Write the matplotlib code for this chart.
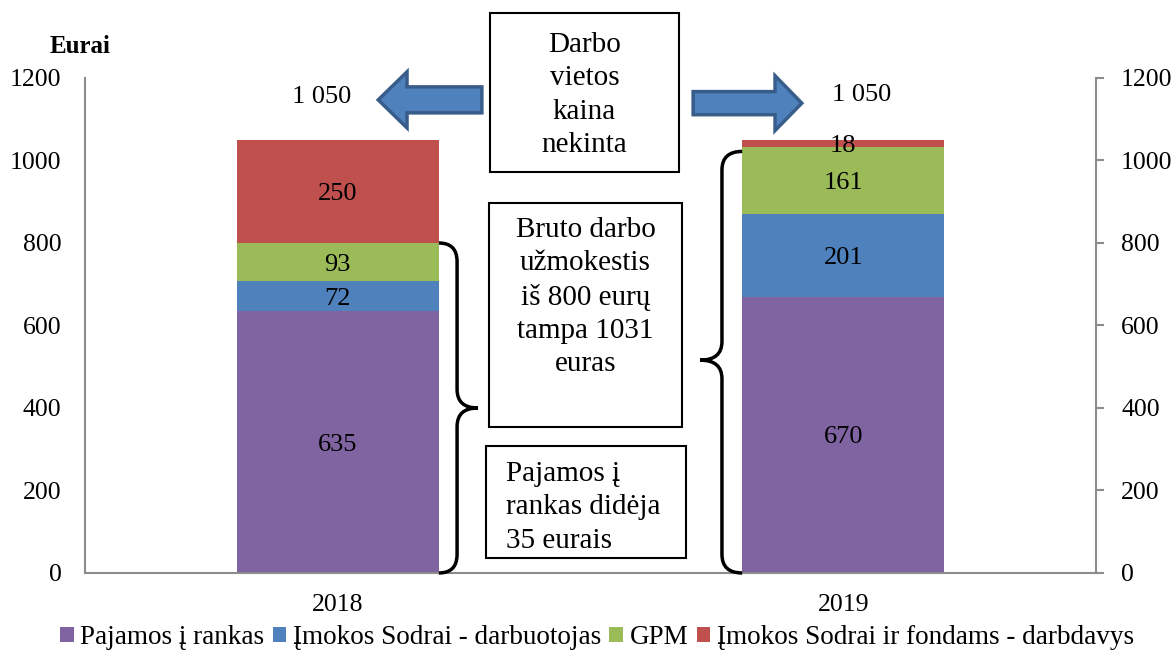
import matplotlib
matplotlib.use("Agg")
import matplotlib.pyplot as plt
import matplotlib.patches as mpatches
from matplotlib.path import Path
import numpy as np

plt.rcParams['font.family'] = ['Liberation Serif', 'DejaVu Serif']

# data
years = ['2018', '2019']
series_names = ['Pajamos į rankas', 'Įmokos Sodrai - darbuotojas', 'GPM',
                'Įmokos Sodrai ir fondams - darbdavys']
pajamos = [635, 670]
sodra_darbuotojas = [72, 201]
gpm = [93, 161]
sodra_darbdavys = [250, 18]
totals_text = ['1 050', '1 050']

colors = ['#8064A2', '#4F81BD', '#9BBB59', '#C0504D']
axis_grey = '#8c8c8c'

fig = plt.figure(figsize=(11.76, 6.5), dpi=100)
ax = fig.add_axes([0.0723, 0.1185, 0.8597, 0.7615])

x = np.arange(len(years))
width = 0.4
bottom = np.zeros(len(years))
for vals, col, name in zip([pajamos, sodra_darbuotojas, gpm, sodra_darbdavys],
                           colors, series_names):
    vals = np.array(vals, dtype=float)
    ax.bar(x, vals, width, bottom=bottom, color=col, label=name)
    for xi, b, v in zip(x, bottom, vals):
        ax.text(xi, b + v / 2, f'{int(v)}', ha='center', va='center_baseline',
                fontsize=19)
    bottom += vals

ax.set_xlim(-0.5, 1.5)
ax.set_ylim(0, 1200)
ax.set_xticks(x)
ax.set_xticklabels(years, fontsize=18.5)
ax.set_yticks(np.arange(0, 1201, 200))
ax.tick_params(axis='x', length=0, pad=15)
ax.tick_params(axis='y', length=0, pad=17, labelsize=18.5)

for s in ['top', 'right']:
    ax.spines[s].set_visible(False)
for s in ['left', 'bottom']:
    ax.spines[s].set_color(axis_grey)
    ax.spines[s].set_linewidth(1.5)

# right axis
ax2 = ax.twinx()
ax2.set_ylim(0, 1200)
ax2.set_yticks(np.arange(0, 1201, 200))
ax2.tick_params(axis='y', length=6, width=1.5, color=axis_grey, pad=12, labelsize=18.5)
for s in ['top', 'left', 'bottom']:
    ax2.spines[s].set_visible(False)
ax2.spines['right'].set_color(axis_grey)
ax2.spines['right'].set_linewidth(1.5)

ax.text(-0.005, 1.063, 'Eurai', transform=ax.transAxes, ha='center', va='center',
        fontsize=18, fontweight='bold')

# totals above bars
ax.text(-0.031, 1154, totals_text[0], ha='center', va='center', fontsize=19, clip_on=False)
ax.text(1.037, 1159, totals_text[1], ha='center', va='center', fontsize=19, clip_on=False)

# block arrows
arrow_kw = dict(length_includes_head=True, facecolor='#4F81BD', edgecolor='#385D8A',
                linewidth=2.5, clip_on=False)
ax.add_patch(mpatches.FancyArrow(0.285, 1147, -0.205, 0, width=63, head_width=136,
                                 head_length=0.057, **arrow_kw))
ax.add_patch(mpatches.FancyArrow(0.703, 1139, 0.215, 0, width=56, head_width=133,
                                 head_length=0.053, **arrow_kw))

# text boxes
def text_box(x0, x1, y0, y1, text, tx, ty, ha='center', fs=21):
    ax.add_patch(mpatches.Rectangle((x0, y0), x1 - x0, y1 - y0, facecolor='white',
                                    edgecolor='black', linewidth=1.5, clip_on=False,
                                    zorder=3))
    ax.text(tx, ty, text, ha=ha, va='center', fontsize=fs, linespacing=1.36,
            zorder=4, clip_on=False, multialignment=ha)

text_box(0.301, 0.675, 972, 1358, 'Darbo\nvietos\nkaina\nnekinta', 0.488, 1159)
text_box(0.299, 0.681, 354, 897, 'Bruto darbo\nužmokestis\niš 800 eurų\ntampa 1031\neuras',
         0.49, 669)
text_box(0.293, 0.689, 36, 308, 'Pajamos į\nrankas didėja\n35 eurais', 0.333, 159, ha='left')

# braces
def brace(x_end, x_vert, x_tip, y_top, y_bot, y_mid, r=45):
    verts = [(x_end, y_top), (x_vert, y_top), (x_vert, y_top - r),
             (x_vert, y_mid + r), (x_vert, y_mid), (x_tip, y_mid),
             (x_vert, y_mid), (x_vert, y_mid - r),
             (x_vert, y_bot + r), (x_vert, y_bot), (x_end, y_bot)]
    codes = [Path.MOVETO, Path.CURVE3, Path.CURVE3,
             Path.LINETO, Path.CURVE3, Path.CURVE3,
             Path.CURVE3, Path.CURVE3,
             Path.LINETO, Path.CURVE3, Path.CURVE3]
    ax.add_patch(mpatches.PathPatch(Path(verts, codes), facecolor='none',
                                    edgecolor='black', linewidth=2.5, clip_on=False,
                                    zorder=5))

top_2018 = pajamos[0] + sodra_darbuotojas[0] + gpm[0]
top_2019 = pajamos[1] + sodra_darbuotojas[1] + gpm[1]
brace(0.2, 0.236, 0.277, top_2018, 0, top_2018 / 2)
brace(0.8, 0.76, 0.717, top_2019 - 10, 0, top_2019 / 2)

handles, labels = ax.get_legend_handles_labels()
fig.legend(handles, labels, loc='center', bbox_to_anchor=(597 / 1176, 0.019), ncol=4,
           frameon=False, fontsize=19.5, handlelength=0.5, handleheight=0.5,
           handletextpad=0.25, columnspacing=0.3, borderpad=0)

fig.savefig('out.png', dpi=100)
